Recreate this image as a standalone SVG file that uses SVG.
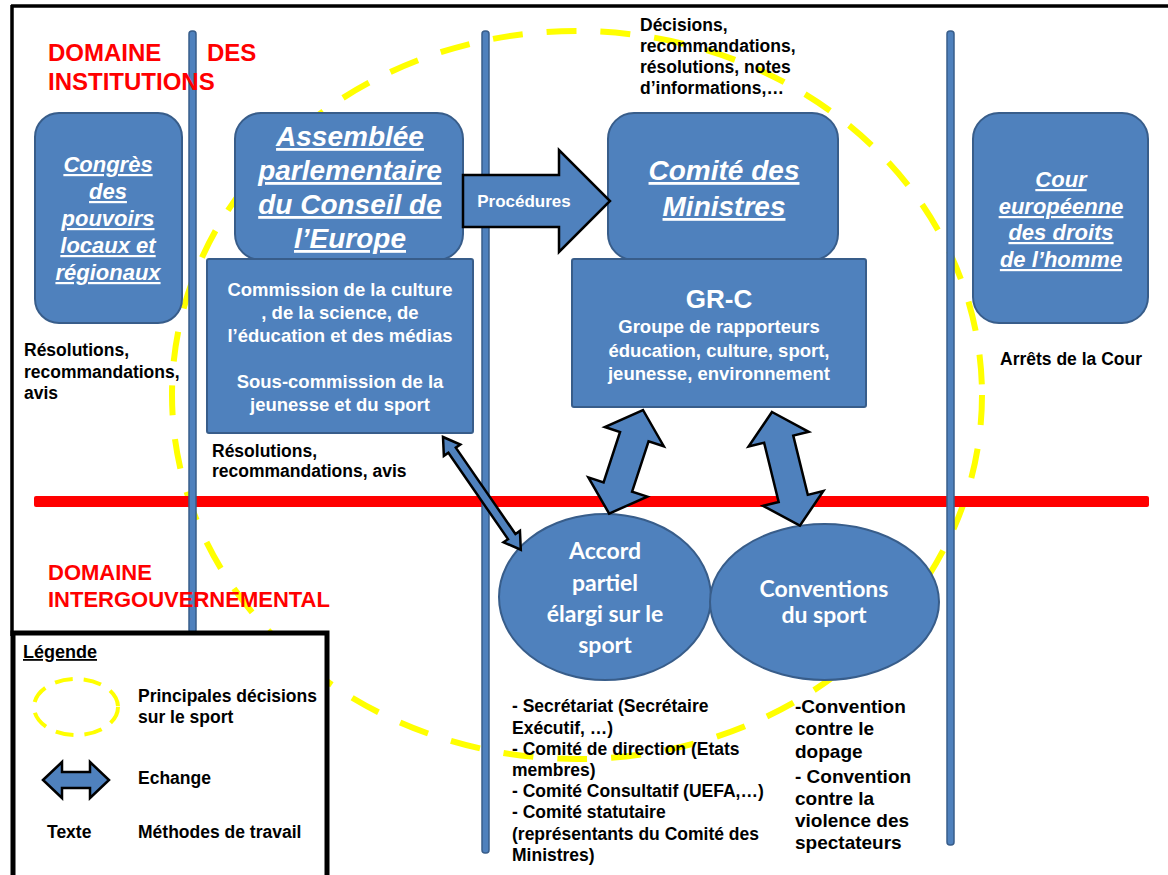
<svg xmlns="http://www.w3.org/2000/svg" width="1168" height="875" viewBox="0 0 1168 875">
<style>
.box{fill:#4f81bd;stroke:#385d8a;stroke-width:2}
.pillar{fill:#4f81bd;stroke:#385d8a;stroke-width:1.5}
.arrow{fill:#4f81bd;stroke:#000;stroke-width:2.5;stroke-linejoin:miter}
.t{font-family:"Liberation Sans",Arial,sans-serif;font-weight:bold}
.c{font-family:Lato,"Liberation Sans",sans-serif;font-weight:bold;fill:#fff;font-size:23px;text-anchor:middle}
.title{fill:#fff;font-style:italic;text-decoration:underline;text-anchor:middle}
.w{fill:#fff;text-anchor:middle}
.red{fill:#ff0000}
.k{fill:#000}
</style>
<rect width="1168" height="875" fill="#fff"/>
<!-- frame -->
<line x1="11" y1="6" x2="1168" y2="6" stroke="#000" stroke-width="3.5"/>
<line x1="12" y1="5" x2="12" y2="636" stroke="#000" stroke-width="3.5"/>
<!-- big decision ellipse -->
<ellipse cx="577" cy="395" rx="405" ry="364" fill="none" stroke="#ffff00" stroke-width="6" stroke-dasharray="30 24"/>
<!-- red separation line -->
<rect x="34" y="496" width="1115" height="11" rx="2" fill="#ff0000"/>
<!-- pillars -->
<rect class="pillar" x="189" y="31" width="7" height="602" rx="3"/>
<rect class="pillar" x="482" y="31" width="7" height="822" rx="3"/>
<rect class="pillar" x="947" y="31" width="7" height="814" rx="3"/>
<!-- domain labels -->
<g class="t red" font-size="24">
<text x="48" y="61">DOMAINE</text>
<text x="207" y="61">DES</text>
<text x="48" y="90">INSTITUTIONS</text>
</g>
<g class="t red" font-size="22">
<text x="48" y="580">DOMAINE</text>
<text x="48" y="607">INTERGOUVERNEMENTAL</text>
</g>
<!-- nodes -->
<g id="congres">
<rect class="box" x="35" y="113" width="147" height="210" rx="24"/>
<g class="t title" font-size="22">
<text x="108" y="172">Congrès</text>
<text x="108" y="199">des</text>
<text x="108" y="226">pouvoirs</text>
<text x="108" y="253">locaux et</text>
<text x="108" y="280">régionaux</text>
</g>
</g>
<g id="assemblee">
<rect class="box" x="235" y="113" width="228" height="147" rx="26"/>
<g class="t title" font-size="28">
<text x="350" y="146">Assemblée</text>
<text x="350" y="180">parlementaire</text>
<text x="350" y="214">du Conseil de</text>
<text x="350" y="248">l’Europe</text>
</g>
</g>
<g id="commission">
<rect class="box" x="207" y="259" width="266" height="174" rx="2"/>
<g class="t w" font-size="18.5">
<text x="340" y="296">Commission de la culture</text>
<text x="340" y="319">, de la science, de</text>
<text x="340" y="342">l’éducation et des médias</text>
<text x="340" y="388">Sous-commission de la</text>
<text x="340" y="411">jeunesse et du sport</text>
</g>
</g>
<g id="comite">
<rect class="box" x="608" y="113" width="230" height="147" rx="26"/>
<g class="t title" font-size="28">
<text x="724" y="180">Comité des</text>
<text x="724" y="216">Ministres</text>
</g>
</g>
<g id="grc">
<rect class="box" x="572" y="259" width="294" height="148" rx="2"/>
<g class="t w">
<text x="719" y="308" font-size="26">GR-C</text>
<text x="719" y="333" font-size="18.5">Groupe de rapporteurs</text>
<text x="719" y="357" font-size="18.5">éducation, culture, sport,</text>
<text x="719" y="380" font-size="18.5">jeunesse, environnement</text>
</g>
</g>
<g id="cour">
<rect class="box" x="973" y="113" width="175" height="210" rx="26"/>
<g class="t title" font-size="22">
<text x="1061" y="187">Cour</text>
<text x="1061" y="214">européenne</text>
<text x="1061" y="240">des droits</text>
<text x="1061" y="267">de l’homme</text>
</g>
</g>
<g id="accord">
<ellipse class="box" cx="605" cy="597" rx="106" ry="83"/>
<text class="c" x="605" y="559">Accord</text>
<text class="c" x="605" y="591">partiel</text>
<text class="c" x="605" y="622">élargi sur le</text>
<text class="c" x="605" y="653">sport</text>
</g>
<g id="conventions">
<ellipse class="box" cx="824.5" cy="602" rx="114.5" ry="78"/>
<text class="c" x="824" y="597">Conventions</text>
<text class="c" x="824" y="623">du sport</text>
</g>
<!-- connectors -->
<g id="connectors">
<polygon class="arrow" points="463,175 559,175 559,150 610,201 559,252 559,227 463,227"/>
<polygon class="arrow" transform="translate(643,410) rotate(108.1)" points="0,0 28,-31 28,-15 81,-15 81,-31 109,0 81,31 81,15 28,15 28,31"/>
<polygon class="arrow" transform="translate(772,412) rotate(76.2)" points="0,0 28,-31 28,-15 89,-15 89,-31 117,0 89,31 89,15 28,15 28,31"/>
<polygon class="arrow" stroke-width="2" transform="translate(443,437) rotate(55.4)" points="0,0 16,-10 16,-4.5 121,-4.5 121,-10 137,0 121,10 121,4.5 16,4.5 16,10"/>
</g>
<text class="t w" x="524" y="207" font-size="17">Procédures</text>
<!-- free texts -->
<g class="t k" font-size="17.5">
<text x="640" y="31">Décisions,</text>
<text x="640" y="52">recommandations,</text>
<text x="640" y="73">résolutions, notes</text>
<text x="640" y="94">d’informations,…</text>
<text x="24" y="356">Résolutions,</text>
<text x="24" y="378">recommandations,</text>
<text x="24" y="399">avis</text>
<text x="212" y="457">Résolutions,</text>
<text x="212" y="477">recommandations, avis</text>
<text x="1000" y="365">Arrêts de la Cour</text>
<text x="512" y="712">- Secrétariat (Secrétaire</text>
<text x="512" y="734">Exécutif, …)</text>
<text x="512" y="755">- Comité de direction (Etats</text>
<text x="512" y="776">membres)</text>
<text x="512" y="797">- Comité Consultatif (UEFA,…)</text>
<text x="512" y="818">- Comité statutaire</text>
<text x="512" y="840">(représentants du Comité des</text>
<text x="512" y="861">Ministres)</text>
</g>
<g class="t k" font-size="19">
<text x="795" y="713">-Convention</text>
<text x="795" y="735">contre le</text>
<text x="795" y="758">dopage</text>
<text x="795" y="783">- Convention</text>
<text x="795" y="805">contre la</text>
<text x="795" y="827">violence des</text>
<text x="795" y="849">spectateurs</text>
</g>
<!-- legend -->
<g id="legend">
<rect x="13" y="633" width="314" height="260" fill="#fff" stroke="#000" stroke-width="5"/>
<text class="t k" x="23" y="658" font-size="18" text-decoration="underline">Légende</text>
<ellipse cx="76" cy="707" rx="42" ry="28" fill="none" stroke="#ffff00" stroke-width="4" stroke-dasharray="18 11"/>
<polygon class="arrow" points="43,780 62,762 62,772 90,772 90,762 109,780 90,798 90,788 62,788 62,798"/>
<g class="t k" font-size="17.5">
<text x="138" y="702">Principales décisions</text>
<text x="138" y="723">sur le sport</text>
<text x="138" y="784">Echange</text>
<text x="47" y="838">Texte</text>
<text x="138" y="838">Méthodes de travail</text>
</g>
</g>
</svg>
